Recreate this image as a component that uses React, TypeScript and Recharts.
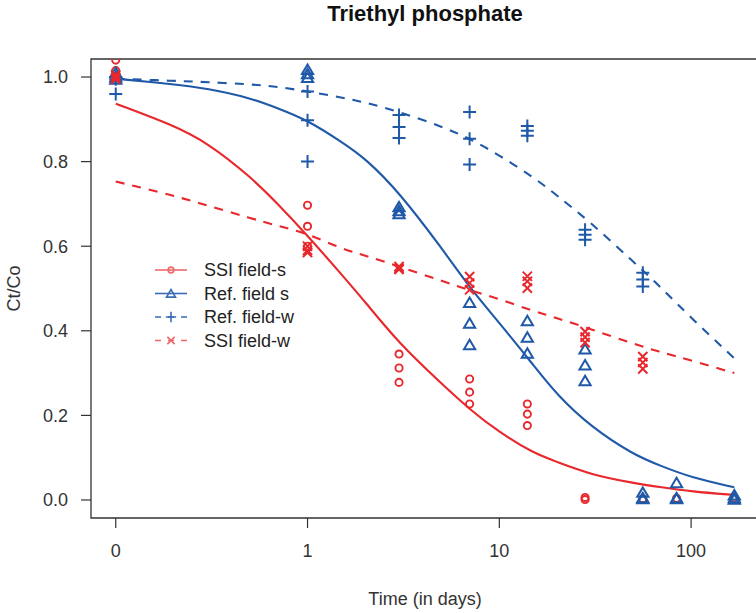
import { ComposedChart, Scatter, Line, XAxis, YAxis, ReferenceArea, Legend, Label } from 'recharts';

const RED = '#E8282C';
const BLUE = '#1F59A7';
const INK = '#333';
const FONT = '"Liberation Sans", Arial, sans-serif';

// sampling days, replicate measurements per day (Ct/Co)
const sampleDays = [0, 1, 3, 7, 14, 28, 56, 84, 168];
const ssiFieldS = [
  [1.04, 1.015, 1.0],
  [0.697, 0.647, 0.6],
  [0.345, 0.312, 0.278],
  [0.286, 0.255, 0.227],
  [0.227, 0.203, 0.176],
  [0.006, 0.001],
  [0.003],
  [0.004],
  [0.005],
];
const refFieldS = [
  [1.01, 1.0, 0.995],
  [1.018, 1.008, 0.999],
  [0.693, 0.684, 0.677],
  [0.467, 0.418, 0.367],
  [0.424, 0.385, 0.347],
  [0.357, 0.319, 0.282],
  [0.018, 0.005, 0.003],
  [0.041, 0.005, 0.003],
  [0.012, 0.005, 0.002],
];
const refFieldW = [
  [1.0, 0.995, 0.96],
  [0.966, 0.898, 0.8],
  [0.91, 0.882, 0.856],
  [0.917, 0.854, 0.793],
  [0.884, 0.873, 0.861],
  [0.639, 0.627, 0.615],
  [0.537, 0.521, 0.505],
  [],
  [],
];
const ssiFieldW = [
  [1.005, 1.0, 0.995],
  [0.6, 0.59, 0.585],
  [0.552, 0.548, 0.545],
  [0.528, 0.513, 0.497],
  [0.529, 0.517, 0.501],
  [0.398, 0.385, 0.372],
  [0.339, 0.325, 0.31],
  [],
  [],
];

// fitted curves
const fitDays = [0, 0.2, 0.3, 0.5, 0.7, 1, 1.5, 2, 3, 5, 7, 10, 15, 20, 30, 50, 70, 100, 168];
const ssiFieldSFit = [0.937, 0.886, 0.845, 0.766, 0.7, 0.625, 0.534, 0.468, 0.37, 0.275, 0.214, 0.16, 0.111, 0.09, 0.06, 0.04, 0.03, 0.02, 0.012];
const refFieldSFit = [0.996, 0.983, 0.973, 0.951, 0.926, 0.898, 0.847, 0.808, 0.728, 0.596, 0.502, 0.419, 0.32, 0.248, 0.173, 0.107, 0.08, 0.053, 0.03];
const refFieldWFit = [0.996, 0.991, 0.988, 0.983, 0.977, 0.966, 0.952, 0.94, 0.918, 0.883, 0.855, 0.815, 0.764, 0.72, 0.656, 0.563, 0.502, 0.43, 0.335];
const ssiFieldWFit = [0.753, 0.72, 0.696, 0.667, 0.648, 0.63, 0.594, 0.578, 0.552, 0.518, 0.496, 0.475, 0.447, 0.43, 0.404, 0.369, 0.349, 0.33, 0.3];

const xTickDays = [0, 1, 10, 100];
const xTickLabels = ['0', '1', '10', '100'];
const yTicks = [0, 0.2, 0.4, 0.6, 0.8, 1.0];

// day 0 sits one decade left of day 1
const logDay = (d: number) => Math.log10(d === 0 ? 0.1 : d);

const toPoints = (reps: number[][]) =>
  sampleDays.flatMap((d, i) => reps[i].map((v) => ({ x: logDay(d), y: v })));
const toCurve = (vals: number[]) => fitDays.map((d, i) => ({ x: logDay(d), y: vals[i] }));

const X_DOMAIN: [number, number] = [-1.129, 2.354];
const Y_DOMAIN: [number, number] = [-0.0426, 1.0426];

type Mark = 'circle' | 'triangle' | 'plus' | 'cross';

function Marker({ kind, cx, cy, color, s = 1 }: { kind: Mark; cx: number; cy: number; color: string; s?: number }) {
  const sw = 2 * s;
  if (kind === 'circle') {
    return <circle cx={cx} cy={cy} r={3.6 * s} fill="none" stroke={color} strokeWidth={1.9 * s} />;
  }
  if (kind === 'triangle') {
    const h = 5 * s;
    const w = 5.6 * s;
    return (
      <polygon
        points={`${cx},${cy - h} ${cx - w},${cy + h * 0.9} ${cx + w},${cy + h * 0.9}`}
        fill="none"
        stroke={color}
        strokeWidth={sw}
        strokeLinejoin="miter"
      />
    );
  }
  if (kind === 'plus') {
    const a = 6.5 * s;
    return (
      <path d={`M${cx - a},${cy}H${cx + a}M${cx},${cy - a}V${cy + a}`} stroke={color} strokeWidth={sw} />
    );
  }
  const a = 4.6 * s;
  return (
    <path d={`M${cx - a},${cy - a}L${cx + a},${cy + a}M${cx - a},${cy + a}L${cx + a},${cy - a}`} stroke={color} strokeWidth={sw} />
  );
}

const series = [
  { name: 'SSI field-s', color: RED, mark: 'circle' as Mark, dash: undefined, points: ssiFieldS, fit: ssiFieldSFit },
  { name: 'Ref. field s', color: BLUE, mark: 'triangle' as Mark, dash: undefined, points: refFieldS, fit: refFieldSFit },
  { name: 'Ref. field-w', color: BLUE, mark: 'plus' as Mark, dash: '9 8', points: refFieldW, fit: refFieldWFit },
  { name: 'SSI field-w', color: RED, mark: 'cross' as Mark, dash: '9 8', points: ssiFieldW, fit: ssiFieldWFit },
];

function LegendBox() {
  return (
    <svg width={220} height={100} style={{ display: 'block' }}>
      {series.map((s, i) => {
        const y = 14 + i * 23.5;
        const light = s.color === RED ? '#F06868' : '#3A6CB4';
        return (
          <g key={s.name}>
            <line x1={5} x2={37} y1={y} y2={y} stroke={light} strokeWidth={1.6} strokeDasharray={s.dash ? '6 7' : undefined} />
            <Marker kind={s.mark} cx={21} cy={y} color={light} s={0.8} />
            <text x={54} y={y} dominantBaseline="central" fontSize={18} fontFamily={FONT} fill="#222">
              {s.name}
            </text>
          </g>
        );
      })}
    </svg>
  );
}

export default function App() {
  return (
    <div style={{ position: 'absolute', left: 0, top: 0, width: 756, height: 613, overflow: 'hidden', background: '#fff' }}>
      <div
        style={{
          position: 'absolute',
          left: 225,
          top: 3,
          width: 400,
          textAlign: 'center',
          fontFamily: FONT,
          fontWeight: 'bold',
          fontSize: 22,
          lineHeight: '22px',
          color: '#111',
        }}
      >
        Triethyl phosphate
      </div>
      <ComposedChart width={770} height={613} margin={{ top: 59, right: 11, bottom: 0, left: 0 }}>
        <XAxis
          type="number"
          dataKey="x"
          domain={X_DOMAIN}
          allowDataOverflow
          ticks={xTickDays.map(logDay)}
          interval={0}
          tickFormatter={(v: number) => xTickLabels[xTickDays.map(logDay).findIndex((t) => Math.abs(t - v) < 1e-6)] ?? ''}
          height={95}
          axisLine={false}
          tickLine={{ stroke: INK, strokeWidth: 1.2 }}
          tickSize={10}
          tickMargin={16}
          tick={{ fill: INK, fontSize: 18, fontFamily: FONT }}
        >
          <Label
            content={() => (
              <text x={425} y={604.5} textAnchor="middle" fontSize={18} fontFamily={FONT} fill={INK}>
                Time (in days)
              </text>
            )}
          />
        </XAxis>
        <YAxis
          type="number"
          dataKey="y"
          domain={Y_DOMAIN}
          allowDataOverflow
          ticks={yTicks}
          interval={0}
          tickFormatter={(v: number) => v.toFixed(1)}
          width={91}
          axisLine={false}
          tickLine={{ stroke: INK, strokeWidth: 1.2 }}
          tickSize={10}
          tickMargin={13}
          tick={{ fill: INK, fontSize: 18, fontFamily: FONT }}
        >
          <Label
            content={() => (
              <text
                x={20}
                y={288.5}
                transform="rotate(-90 20 288.5)"
                textAnchor="middle"
                fontSize={18}
                fontFamily={FONT}
                fill={INK}
              >
                Ct/Co
              </text>
            )}
          />
        </YAxis>
        <ReferenceArea x1={X_DOMAIN[0]} x2={X_DOMAIN[1]} y1={Y_DOMAIN[0]} y2={Y_DOMAIN[1]} fill="none" stroke={INK} strokeWidth={1.3} />
        {series.map((s) => (
          <Line
            key={`fit-${s.name}`}
            data={toCurve(s.fit)}
            dataKey="y"
            type="basis"
            stroke={s.color}
            strokeWidth={2.1}
            strokeDasharray={s.dash}
            dot={false}
            activeDot={false}
            isAnimationActive={false}
          />
        ))}
        {series.map((s) => (
          <Scatter
            key={`pts-${s.name}`}
            data={toPoints(s.points)}
            dataKey="y"
            isAnimationActive={false}
            shape={(p: any) => <Marker kind={s.mark} cx={p.cx} cy={p.cy} color={s.color} />}
          />
        ))}
        <Legend
          layout="vertical"
          align="center"
          verticalAlign="middle"
          wrapperStyle={{ left: 150, top: 256, width: 220, height: 100 }}
          content={() => <LegendBox />}
        />
      </ComposedChart>
    </div>
  );
}
